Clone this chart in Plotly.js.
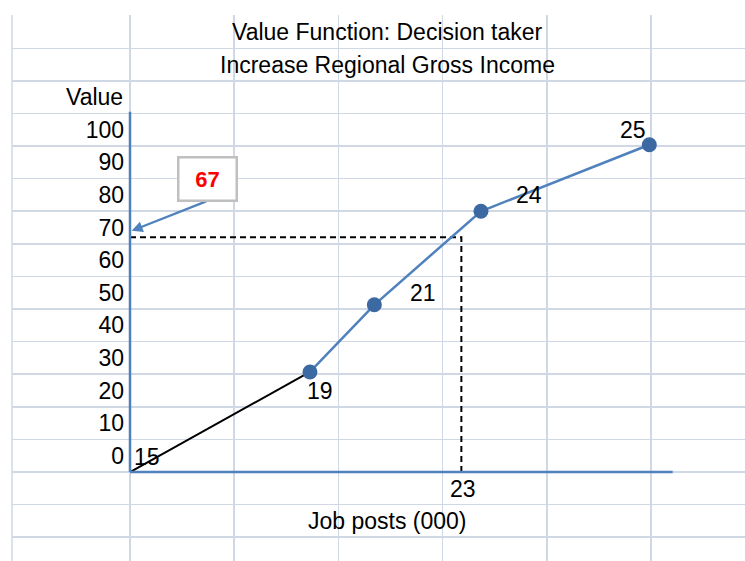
<!DOCTYPE html>
<html><head><meta charset="utf-8">
<script src="https://cdn.plot.ly/plotly-3.0.1.min.js"></script>
<style>html,body{margin:0;padding:0;background:#fff;}#chart{width:745px;height:561px;}</style>
</head><body><div id="chart"></div>
<script>
// ---- values ----
const jobLabels = ['15', '19', '21', '24', '25'];          // job posts (000) at each point
const xPos = [0, 1.727, 2.345, 3.368, 4.984];              // horizontal place, in sheet columns from the value axis
const values = [-5, 25.7, 46.3, 75.0, 95.4];               // value of each point
const yTickVals = [0, 10, 20, 30, 40, 50, 60, 70, 80, 90, 100];
const yTickText = ['0', '10', '20', '30', '40', '50', '60', '70', '80', '90', '100'];
const readJob = '23';
const readX = 3.18;
const readValue = 67;
const readLabel = '67';
const baseValue = -5;      // level of the horizontal axis line
const axisTop = 105.5;     // top of the vertical axis line
const axisEnd = 5.208;     // right end of the horizontal axis line
const arrowValue = 69;
const titleText = 'Value Function: Decision taker';
const subtitleText = 'Increase Regional Gross Income';
const yTitle = 'Value';
const xTitle = 'Job posts (000)';

// ---- styling ----
const FONT = 'Liberation Sans, Arial, sans-serif';
const FS = 23;
const GRID = '#D0D7E5';
const BLUE = '#4F81BD';
const MARK = '#3D69A3';
const colW = 104.2, rowH = 3.2605;   // px per x unit / per y unit

const traces = [
  { x: [xPos[0], readX, readX], y: [readValue, readValue, baseValue], mode: 'lines',
    line: { color: '#000', width: 2, dash: '6px,4px' }, hoverinfo: 'skip' },
  { x: [xPos[0], xPos[1]], y: [values[0], values[1]], mode: 'lines',
    line: { color: '#000', width: 2 }, hoverinfo: 'skip' },
  { x: xPos.slice(1), y: values.slice(1), mode: 'lines+markers',
    line: { color: BLUE, width: 2.5 },
    marker: { color: MARK, size: 15, symbol: 'circle' } }
];

const labelShift = [[16.5, 15.5], [10.5, -19], [49, 11.7], [48, 16.7], [-16.3, 15]];
const annotations = jobLabels.map((t, i) => ({
  x: xPos[i], y: values[i], xref: 'x', yref: 'y', text: t, showarrow: false,
  xshift: labelShift[i][0], yshift: labelShift[i][1],
  font: { family: FONT, size: FS, color: '#000' }
}));
annotations.push(
  { x: readX, y: baseValue, xref: 'x', yref: 'y', text: readJob, showarrow: false,
    xshift: 1.5, yshift: -17, font: { family: FONT, size: FS, color: '#000' } },
  { x: 2.47, y: 130, xref: 'x', yref: 'y', text: titleText, showarrow: false,
    font: { family: FONT, size: FS, color: '#000' } },
  { x: 2.47, y: 120, xref: 'x', yref: 'y', text: subtitleText, showarrow: false,
    font: { family: FONT, size: FS, color: '#000' } },
  { x: 0, y: 110, xref: 'x', yref: 'y', text: yTitle, showarrow: false, xanchor: 'right',
    xshift: -5, font: { family: FONT, size: FS, color: '#000' } },
  { x: 2.47, y: -20, xref: 'x', yref: 'y', text: xTitle, showarrow: false,
    font: { family: FONT, size: FS, color: '#000' } },
  // arrow from the box to the value axis
  { x: 0.016, y: arrowValue, xref: 'x', yref: 'y', text: '', showarrow: true,
    ax: 76, ay: -30, arrowhead: 2, arrowsize: 1, arrowwidth: 2.2, arrowcolor: BLUE, standoff: 0 },
  // boxed reading
  { x: 0.016, y: arrowValue, xref: 'x', yref: 'y', text: '<b>' + readLabel + '</b>', showarrow: false,
    xshift: 76, yshift: 51.7, width: 52, height: 37, borderpad: 2, borderwidth: 2.5,
    bordercolor: '#BFBFBF', bgcolor: '#FFFFFF',
    font: { family: FONT, size: 22, color: '#FF0000' } }
);

const layout = {
  width: 745, height: 561,
  margin: { l: 12, r: 0, t: 15, b: 0, pad: 0 },
  paper_bgcolor: '#FFFFFF', plot_bgcolor: '#FFFFFF',
  showlegend: false,
  xaxis: {
    range: [-118 / colW, 615 / colW],
    tickvals: [0, 1, 2, 3, 4, 5], showticklabels: false, ticks: '',
    showgrid: true, gridcolor: GRID, gridwidth: 1.5, zeroline: false, showline: false, fixedrange: true
  },
  yaxis: {
    range: [baseValue - 89 / rowH, 135.2],
    anchor: 'free', position: 118 / 733,
    tickvals: yTickVals, ticktext: yTickText, ticks: '', ticklabelstandoff: 6,
    tickfont: { family: FONT, size: FS, color: '#000' },
    showgrid: false, zeroline: false, showline: false, fixedrange: true,
    minor: { tick0: 5, dtick: 10, showgrid: true, gridcolor: GRID, gridwidth: 1.5, ticks: '' }
  },
  shapes: [
    { type: 'line', xref: 'paper', yref: 'paper', x0: 0, x1: 0, y0: 0, y1: 1,
      line: { color: GRID, width: 1.5 } },
    { type: 'line', xref: 'x', yref: 'y', x0: 0, x1: 0, y0: baseValue, y1: axisTop,
      line: { color: BLUE, width: 2.5 } },
    { type: 'line', xref: 'x', yref: 'y', x0: 0, x1: axisEnd, y0: baseValue, y1: baseValue,
      line: { color: BLUE, width: 2.5 } }
  ],
  annotations: annotations
};

Plotly.newPlot('chart', traces, layout, { displayModeBar: false, staticPlot: true });
</script>
</body></html>
